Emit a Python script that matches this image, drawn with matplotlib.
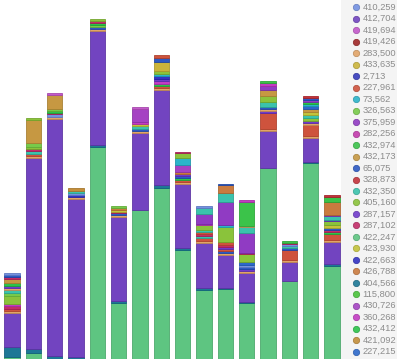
import numpy as np
import matplotlib.pyplot as plt
from matplotlib.lines import Line2D
from matplotlib.patches import Rectangle
from matplotlib.colors import to_rgb

plt.rcParams['font.family'] = ['Liberation Sans', 'DejaVu Sans']

# legend series (top to bottom as shown)
series_names = ['410,259', '412,704', '419,694', '419,426', '283,500', '433,635',
                '2,713', '227,961', '73,562', '326,563', '375,959', '282,256',
                '432,974', '432,173', '65,075', '328,873', '432,350', '405,160',
                '287,157', '287,102', '422,247', '423,930', '422,663', '426,788',
                '404,566', '115,800', '430,726', '360,268', '432,412', '421,092',
                '227,215']
series_colors = ['#6b8be0', '#6a3abd', '#c050c8', '#9a1a1a', '#e0a060', '#c8b030',
                 '#2a30b8', '#cc4a32', '#20b0c8', '#70c840', '#8a30c0', '#c030a8',
                 '#30c040', '#c39338', '#2050c0', '#c02830', '#30c0a8', '#84c030',
                 '#6830c8', '#c02060', '#55c27a', '#c0c030', '#2828c0', '#c87434',
                 '#107090', '#40c030', '#a038c0', '#c030c0', '#20c040', '#c08830',
                 '#2060c8']

# shorthand for series indices
LB, P, PI, DR, OR, OL, B4, RED, CY, LG, VI, MG3 = range(12)
BG, GOLD, BL, R2, TEAL, YG, PU2, PK, G, YL, B2, O2 = range(12, 24)
T, GRN, MG2, MAG, G2, GD2, B3 = range(24, 31)

# stacked segments per bar, bottom to top: (series, value)
bar01 = [(G, 2), (T, 10), (P, 34), (OR, 2), (RED, 2), (PK, 3), (MAG, 2), (YG, 8),
         (LG, 3), (TEAL, 3), (OR, 2), (PU2, 2), (G2, 3), (GOLD, 4), (PK, 2), (BL, 2), (LB, 2)]
bar02 = [(G, 6), (T, 4), (P, 191), (OR, 2), (RED, 2), (TEAL, 3), (PK, 2), (YG, 2),
         (LG, 4), (GOLD, 23), (YG, 2)]
bar03 = [(T, 3), (P, 237), (OR, 2), (LB, 3), (PK, 1), (G2, 2), (LG, 2), (GOLD, 14), (PI, 2)]
bar04 = [(T, 2), (P, 158), (OR, 2), (B2, 2), (LB, 2), (TEAL, 2), (GD2, 3)]
bar05 = [(G, 212), (T, 2), (P, 114), (OR, 2), (BL, 2), (LG, 2), (G2, 2), (PK, 2), (YG, 2)]
bar06 = [(G, 56), (T, 2), (P, 84), (OR, 2), (BL, 2), (PK, 1), (YL, 2), (O2, 2), (LG, 2)]
bar07 = [(G, 149), (P, 77), (OR, 2), (BL, 2), (TEAL, 3), (YL, 2), (MAG, 2), (MG2, 13), (PI, 2)]
bar08 = [(G, 171), (T, 3), (P, 95), (OR, 2), (RED, 2), (G2, 2), (MAG, 3), (PU2, 2),
         (B2, 3), (CY, 2), (YG, 3), (OL, 9), (BL, 4), (RED, 3)]
bar09 = [(G, 109), (T, 2), (P, 64), (OR, 2), (RED, 2), (G2, 2), (BL, 2), (PU2, 2),
         (O2, 2), (MG2, 7), (CY, 7), (YG, 5), (PK, 1)]
bar10 = [(G, 69), (T, 2), (P, 45), (OR, 2), (RED, 3), (TEAL, 2), (PK, 2), (RED, 2),
         (TEAL, 2), (YG, 5), (MAG, 1), (VI, 10), (TEAL, 6), (LB, 2)]
bar11 = [(G, 70), (T, 1), (P, 33), (OR, 2), (BL, 2), (RED, 2), (PU2, 2), (PK, 2),
         (RED, 3), (YG, 15), (CY, 2), (VI, 23), (TEAL, 9), (O2, 8), (BL, 1)]
bar12 = [(G, 56), (T, 1), (P, 29), (OR, 2), (PU2, 2), (BL, 2), (LB, 2), (B3, 3),
         (YG, 8), (PK, 1), (VI, 20), (TEAL, 6), (OR, 1), (BG, 24), (MAG, 2)]
bar13 = [(G, 191), (P, 37), (OR, 2), (RED, 16), (PU2, 2), (OR, 2), (BL, 2), (TEAL, 5),
         (YG, 6), (GOLD, 6), (VI, 4), (MAG, 3), (BG, 2)]
bar14 = [(G, 78), (P, 19), (OR, 2), (RED, 10), (BL, 2), (TEAL, 2), (LB, 2), (PK, 1), (BG, 2)]
bar15 = [(G, 196), (T, 1), (P, 24), (OR, 2), (RED, 11), (OR, 2), (PU2, 2), (YG, 3),
         (TEAL, 3), (YL, 3), (GOLD, 3), (B3, 3), (CY, 2), (G2, 2), (VI, 2), (BL, 2), (R2, 2)]
bar16 = [(G, 93), (T, 2), (P, 22), (OR, 2), (RED, 6), (G2, 2), (PK, 2), (BL, 2),
         (YL, 3), (YG, 4), (PU2, 1), (TEAL, 4), (VI, 1), (O2, 13), (BG, 5), (R2, 2)]

bars = [bar01, bar02, bar03, bar04, bar05, bar06, bar07, bar08,
        bar09, bar10, bar11, bar12, bar13, bar14, bar15, bar16]


def darker(c, f=0.8):
    r, g, b = to_rgb(c)
    return (r * f, g * f, b * f)


fig = plt.figure(figsize=(3.97, 3.59), dpi=100)
ax = fig.add_axes([0, 0, 1, 1])

for i, segs in enumerate(bars):
    bottom = 0
    for s, v in segs:
        col = series_colors[s]
        ax.bar(i, v, bottom=bottom, width=0.72, color=col, alpha=0.95,
               edgecolor=darker(col, 0.85), linewidth=0.6)
        bottom += v

ax.set_xlim(-12 / 21.33, (397 - 12) / 21.33)
ax.set_ylim(0, 359)
ax.axis('off')

# legend panel on the right
fig.patches.append(Rectangle((341 / 397, 0), 1, 1, transform=fig.transFigure,
                             facecolor='#f3f3f3', alpha=0.85, zorder=5))
for k, name in enumerate(series_names):
    y = 1 - (7.3 + 11.48 * k) / 359
    fig.add_artist(Line2D([355.5 / 397], [y], transform=fig.transFigure, marker='o',
                          markersize=4.6, color=series_colors[k], alpha=0.85,
                          markeredgecolor=darker(series_colors[k]), markeredgewidth=0.5,
                          zorder=6))
    fig.text(362.5 / 397, y, name, fontsize=6.7, color='#8c8c8c', va='center',
             ha='left', zorder=6)

plt.savefig('out.png', dpi=100)
